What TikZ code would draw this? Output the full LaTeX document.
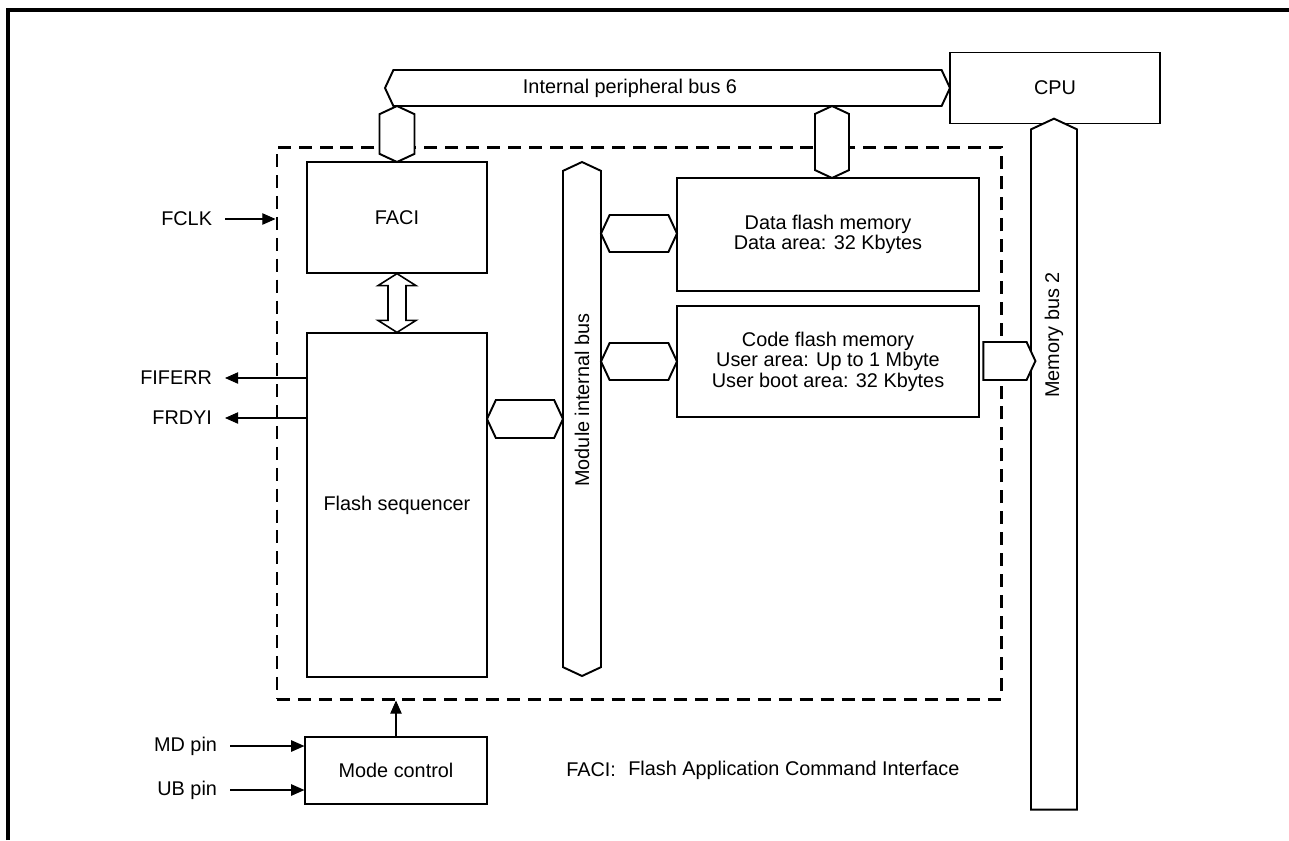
\documentclass[tikz,border=0pt]{standalone}
\usepackage{fontspec}
\setmainfont{Liberation Sans}
\usetikzlibrary{shapes.symbols,arrows.meta,calc}

\newcommand{\px}{0.02cm}

\begin{document}
\begin{tikzpicture}[x=0.02cm, y=-0.02cm,
  every node/.style={font=\fontsize{11.3}{11.6}\selectfont},
  blk/.style={draw, line width=0.7pt, fill=white, inner sep=0pt, align=center},
  bus/.style={signal, draw, line width=1.1pt, fill=white, inner sep=0pt, signal pointer angle=130},
  sig/.style={line width=0.6pt, -{Triangle[length=7.5pt,width=6.5pt]}},
  pin/.style={inner sep=0pt, outer xsep=0.26cm, anchor=east}]
  \useasboundingbox (0,0) rectangle (1289,840);

  % outer frame
  \draw[line width=2pt] (8,840) -- (8,10) -- (1289,10);

  % flash module border
  \node[draw, line width=1.7pt, dash pattern=on 7.4pt off 4.5pt, inner sep=0pt,
    minimum width=724*\px, minimum height=552*\px] (flashmod) at (639,423) {};

  % blocks
  \node[blk, minimum width=180*\px, minimum height=111*\px] (faci) at (397,217.5) {FACI};
  \node[blk, minimum width=180*\px, minimum height=344*\px] (seq) at (397,505) {Flash sequencer};
  \node[blk, minimum width=302*\px, minimum height=113*\px] (dflash) at (828,234.5) {Data flash memory\\Data area: 32 Kbytes};
  \node[blk, minimum width=302*\px, minimum height=111*\px] (cflash) at (828,361.5) {Code flash memory\\User area: Up to 1 Mbyte\\User boot area: 32 Kbytes};
  \node[blk, minimum width=182*\px, minimum height=67*\px] (mode) at (396,770.5) {Mode control};

  % buses
  \node[bus, signal to=west and east, minimum width=565*\px, minimum height=36*\px] (bus6) at (667.5,88) {};
  \node (bus6lbl) at (630,88) {Internal peripheral bus 6};
  \node[blk, minimum width=210*\px, minimum height=71*\px] (cpu) at (1055,88) {CPU};

  \node[bus, rotate=90, signal to=west and east, minimum width=514*\px, minimum height=38*\px] (mib) at (582,419) {};
  \node[rotate=90] (miblbl) at (582,400) {Module internal bus};
  \node[bus, rotate=90, signal to=east, minimum width=691*\px, minimum height=46*\px] (mbus2) at (1054,469.5) {};
  \node[rotate=90] (mbus2lbl) at (1054,335) {Memory bus 2};

  % bus ports
  \node[bus, rotate=90, signal to=west and east, minimum width=56*\px, minimum height=35*\px] (faciport) at (397,134) {};
  \node[bus, rotate=90, signal to=west and east, minimum width=72*\px, minimum height=34*\px] (dflashport) at (832,142) {};
  \node[bus, signal to=west and east, minimum width=76*\px, minimum height=37*\px] (dlink) at (639,233.5) {};
  \node[bus, signal to=west and east, minimum width=76*\px, minimum height=37*\px] (clink) at (639,361.5) {};
  \node[bus, signal to=west and east, minimum width=76*\px, minimum height=38*\px] (seqlink) at (525,419) {};
  \node[bus, signal to=east, minimum width=52*\px, minimum height=38*\px] (memlink) at (1005,361) {};

  % FACI <-> sequencer
  \draw[line width=0.9pt] (faci.south) -- ++(19,12) -- ++(-10,0) -- ($(seq.north)+(9,-12)$) -- ++(10,0)
    -- (seq.north) -- ++(-19,-12) -- ++(10,0) -- ($(faci.south)+(-9,12)$) -- ++(-10,0) -- cycle;

  % signals
  \node[pin] (fclk) at (225,219) {FCLK};
  \draw[sig] (fclk.east) -- (fclk -| flashmod.west);
  \node[pin] (fiferr) at (225,378) {FIFERR};
  \draw[sig] (seq.west |- fiferr) -- (fiferr.east);
  \node[pin] (frdyi) at (225,418) {FRDYI};
  \draw[sig] (seq.west |- frdyi) -- (frdyi.east);
  \node[pin] (mdpin) at (230,746) {MD pin};
  \draw[sig] (mdpin.east) -- (mdpin -| mode.west);
  \node[pin] (ubpin) at (230,790) {UB pin};
  \draw[sig] (ubpin.east) -- (ubpin -| mode.west);
  \draw[sig] (mode.north) -- (mode.north |- flashmod.south);

  % note
  \node[anchor=west, inner sep=0pt] (faciabbr) at (566,770) {FACI:};
  \node[anchor=west, inner sep=0pt] (facidef) at (628,770) {Flash Application Command Interface};
\end{tikzpicture}
\end{document}
